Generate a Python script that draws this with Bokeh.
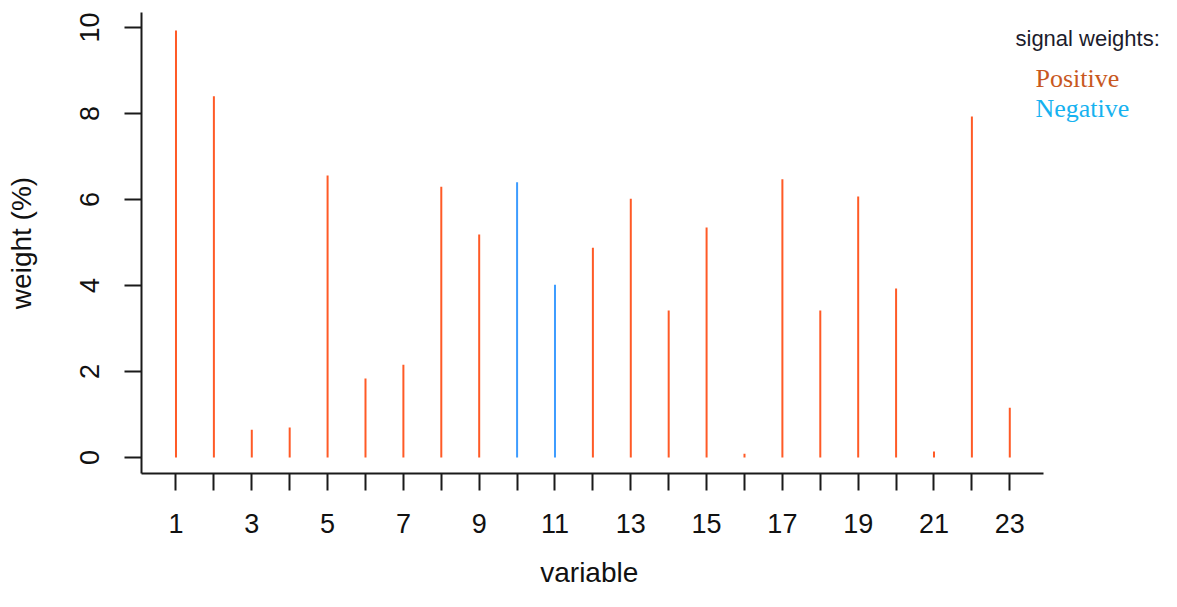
from bokeh.plotting import figure
from bokeh.models import Range1d, FixedTicker, Label, ColumnDataSource
from bokeh.embed import file_html
from bokeh.resources import INLINE

# ---- data ----
variables = list(range(1, 24))
weights = [9.93, 8.40, 0.65, 0.70, 6.56, 1.84, 2.16, 6.30, 5.19, 6.40, 4.02, 4.88,
           6.02, 3.42, 5.35, 0.09, 6.47, 3.42, 6.07, 3.93, 0.14, 7.93, 1.16]
signs = ["Positive"] * 9 + ["Negative"] * 2 + ["Positive"] * 12
y_ticks = [0, 2, 4, 6, 8, 10]
x_ticks = variables
x_tick_labels = [str(v) if v % 2 == 1 else "" for v in variables]
legend_title = "signal weights:"
legend_items = ["Positive", "Negative"]

bar_colors = {"Positive": "#FF5A26", "Negative": "#3D9CFF"}
legend_colors = {"Positive": "#C8581E", "Negative": "#16B2F0"}

AXIS_FONT = "Liberation Sans"

W, H = 1161, 591
FRAME_L, FRAME_T, FRAME_B = 141, 12, 473
PX_PER_X = 37.9          # pixels per x unit
X0 = 0.09                # x value at left frame edge
X_AXIS_END = 23.9        # where the drawn x axis stops
x_end = X0 + (W - FRAME_L) / PX_PER_X
Y0, Y1 = -0.37, 10.35

p = figure(width=W, height=H, output_backend="svg", toolbar_location=None,
           x_range=Range1d(X0, x_end), y_range=Range1d(Y0, Y1),
           min_border_left=FRAME_L, min_border_right=0, min_border_top=FRAME_T,
           min_border_bottom=H - FRAME_B)
p.outline_line_color = None
p.xgrid.visible = False
p.ygrid.visible = False
p.background_fill_color = "white"
p.border_fill_color = "white"

src = ColumnDataSource(dict(x=variables, y0=[0] * len(variables), y1=weights,
                            c=[bar_colors[s] for s in signs]))
p.segment(x0="x", y0="y0", x1="x", y1="y1", source=src, line_color="c",
          line_width=2, line_cap="butt")

for ax in (p.xaxis[0], p.yaxis[0]):
    ax.axis_line_width = 2
    ax.axis_line_color = "#1a1a1a"
    ax.major_tick_line_width = 2
    ax.major_tick_line_color = "#1a1a1a"
    ax.major_tick_out = 17
    ax.major_tick_in = 0
    ax.minor_tick_line_color = None
    ax.major_label_text_font = AXIS_FONT
    ax.major_label_text_font_size = "27px"
    ax.major_label_text_color = "#111111"
    ax.axis_label_text_font = AXIS_FONT
    ax.axis_label_text_font_size = "28px"
    ax.axis_label_text_font_style = "normal"
    ax.axis_label_text_color = "#111111"

# the frame reaches the right edge (room for the legend texts), so the
# x-axis title is shifted left with trailing no-break spaces to sit under the drawn axis
frame_center = (FRAME_L + W) / 2
axis_center = FRAME_L + ((X_AXIS_END - X0) / 2) * PX_PER_X
shift = frame_center - axis_center + 3
n_nbsp = int(round(2 * shift / (0.278 * 28)))

p.xaxis.ticker = FixedTicker(ticks=x_ticks)
p.xaxis.major_label_overrides = {t: l for t, l in zip(x_ticks, x_tick_labels)}
p.xaxis.major_label_standoff = 23
p.xaxis.axis_label = "variable" + "\u00a0" * n_nbsp
p.xaxis.axis_label_standoff = 21
p.xaxis.bounds = (X0, X_AXIS_END)

p.yaxis.ticker = FixedTicker(ticks=y_ticks)
p.yaxis.major_label_orientation = "vertical"
p.yaxis.major_label_standoff = 25
p.yaxis.axis_label = "weight (%)"
p.yaxis.axis_label_standoff = 41
p.yaxis.bounds = (Y0, Y1)

# legend-like texts (placed right of the axis)
def px_to_x(px):
    return X0 + (px - FRAME_L) / PX_PER_X

def py_to_y(py):
    return Y1 - (py - FRAME_T) * (Y1 - Y0) / (FRAME_B - FRAME_T)

p.add_layout(Label(x=px_to_x(1015), y=py_to_y(38), text=legend_title,
                   text_font="Liberation Sans", text_font_size="22px",
                   text_color="#1c1c2c", text_baseline="alphabetic"))
for i, item in enumerate(legend_items):
    p.add_layout(Label(x=px_to_x(1035), y=py_to_y(78 + 30 * i), text=item,
                       text_font="Liberation Serif", text_font_size="26px",
                       text_color=legend_colors[item], text_baseline="alphabetic"))

open("out.html", "w").write(file_html(p, INLINE))
